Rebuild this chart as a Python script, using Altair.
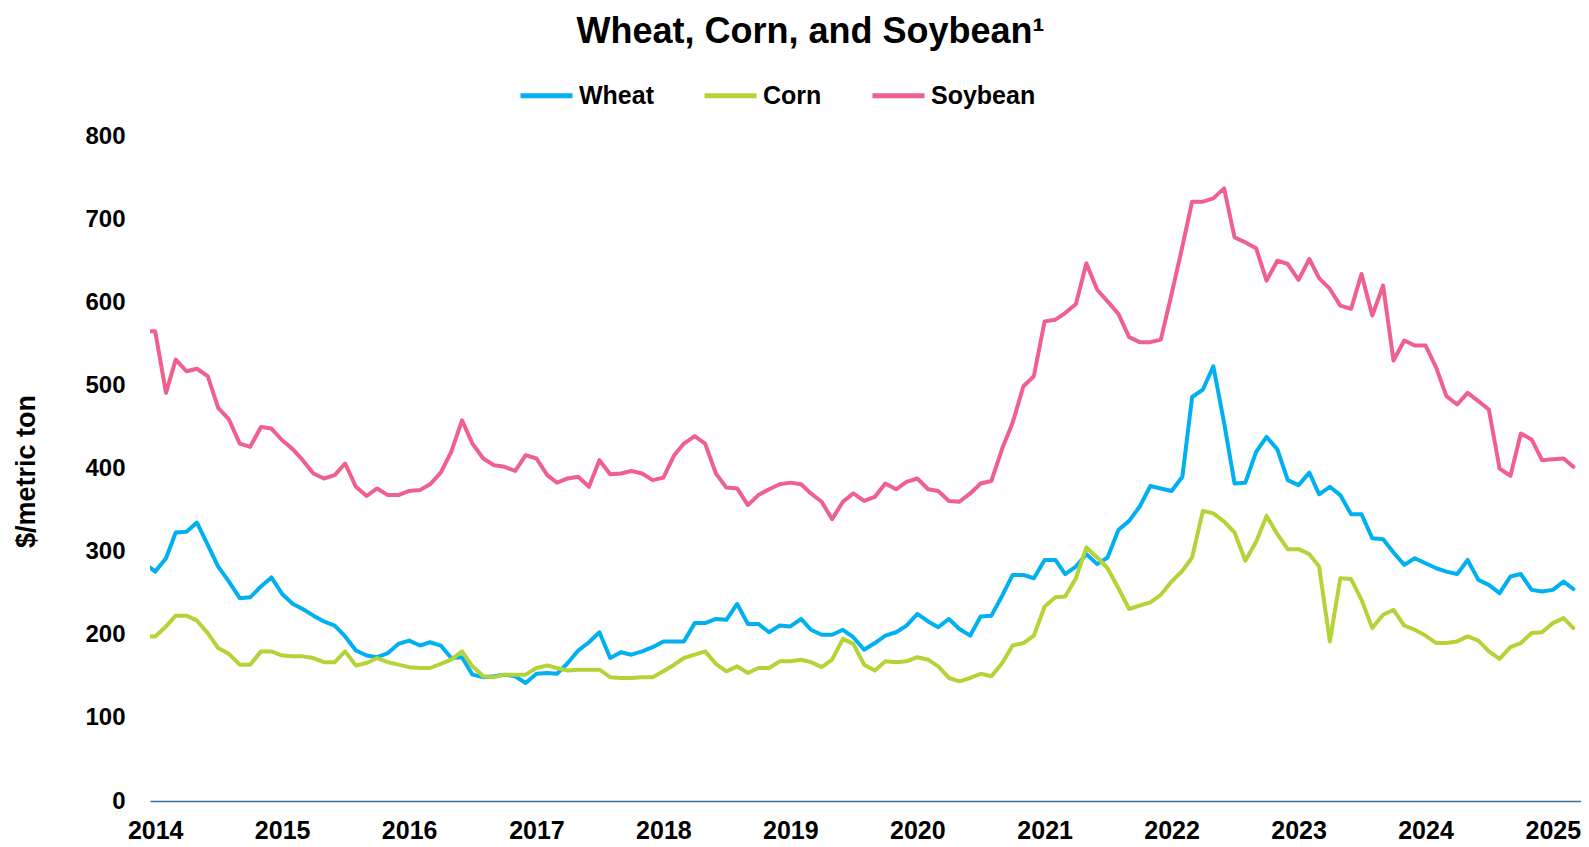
import altair as alt
import pandas as pd

# Monthly prices, Dec 2013 .. Mar 2025 ($/metric ton)
wheat = [286, 276, 292, 323, 324, 335, 308, 282, 264, 244, 245, 258, 269,
         249, 237, 231, 223, 216, 211, 198, 181, 175, 173, 178, 189,
         193, 187, 191, 187, 172, 173, 152, 149, 150, 152, 150, 142,
         153, 154, 153, 166, 181, 191, 203, 172, 179, 176, 180, 185,
         192, 192, 192, 214, 214, 219, 218, 237, 213, 213, 203, 211,
         210, 219, 206, 200, 200, 206, 197, 182, 190, 199, 203, 211,
         225, 216, 209, 219, 207, 199, 222, 223, 247, 272, 272, 268,
         290, 290, 273, 282, 297, 285, 293, 326, 337, 354, 379, 376,
         373, 390, 486, 495, 523, 455, 382, 383, 420, 438, 423, 386,
         380, 395, 369, 378, 368, 345, 345, 316, 315, 299, 284, 292,
         286, 280, 276, 273, 290, 266, 260, 250, 270, 273, 254, 252,
         254, 264, 255]
corn = [198, 198, 210, 223, 223, 217, 202, 184, 177, 164, 164, 180, 180,
        175, 174, 174, 172, 167, 167, 180, 163, 166, 172, 167, 164,
        161, 160, 160, 165, 170, 180, 162, 150, 149, 152, 152, 152,
        160, 163, 160, 157, 158, 158, 158, 149, 148, 148, 149, 149,
        156, 164, 172, 176, 180, 165, 156, 162, 154, 160, 160, 168,
        168, 170, 167, 161, 170, 195, 189, 164, 157, 168, 167, 168,
        173, 170, 162, 148, 144, 148, 153, 150, 166, 187, 190, 199,
        234, 245, 246, 268, 305, 293, 280, 256, 231, 235, 239, 248,
        264, 277, 293, 349, 346, 336, 323, 289, 312, 343, 321, 303,
        303, 297, 282, 192, 268, 267, 242, 208, 224, 230, 211, 206,
        199, 190, 190, 192, 198, 193, 180, 171, 185, 190, 202, 203,
        214, 220, 208]
soybean = [565, 565, 491, 531, 517, 520, 511, 473, 459, 430, 426, 450, 448,
           434, 423, 410, 394, 388, 392, 406, 378, 367, 376, 368, 368,
           373, 374, 381, 395, 420, 458, 430, 412, 404, 402, 397, 416,
           412, 392, 383, 388, 390, 378, 410, 393, 394, 397, 394, 386,
           389, 416, 430, 439, 430, 394, 377, 376, 356, 368, 375, 381,
           383, 381, 370, 360, 339, 360, 370, 361, 366, 382, 375, 384,
           388, 375, 373, 361, 360, 370, 382, 385, 424, 455, 499, 511,
           577, 579, 587, 598, 647, 615, 601, 586, 558, 552, 552, 555,
           610, 667, 721, 721, 725, 737, 678, 672, 665, 626, 650, 646,
           627, 652, 629, 616, 596, 592, 634, 584, 620, 530, 554, 548,
           548, 521, 487, 477, 491, 481, 471, 400, 391, 442, 435, 410,
           411, 412, 402]

series_names = ["Wheat", "Corn", "Soybean"]
series_colors = ["#00b0f0", "#b4d337", "#f0608c"]
y_ticks = [0, 100, 200, 300, 400, 500, 600, 700, 800]

months = pd.date_range("2013-12-01", periods=len(wheat), freq="MS")
frames = []
for name, vals in zip(series_names, [wheat, corn, soybean]):
    frames.append(pd.DataFrame({"date": months, "commodity": name, "price": vals}))
df = pd.concat(frames, ignore_index=True)

FONT = "Liberation Sans, Arial, sans-serif"

chart = (
    alt.Chart(df)
    .mark_line(strokeWidth=4, clip=True, strokeJoin="round", strokeCap="round")
    .encode(
        x=alt.X(
            "date:T",
            scale=alt.Scale(
                domain=[alt.DateTime(year=2013, month=12, date=17),
                        alt.DateTime(year=2025, month=3, date=23)]
            ),
            axis=alt.Axis(
                title=None, format="%Y", tickCount={"interval": "year", "step": 1},
                grid=False, ticks=False, tickSize=0, labelPadding=17,
                domainColor="#3d6f98", domainWidth=1.5, labelAngle=0,
                labelFontSize=25, labelFont=FONT, labelFontWeight="bold",
                labelColor="black", labelFlush=False, labelOverlap=False,
            ),
        ),
        y=alt.Y(
            "price:Q",
            scale=alt.Scale(domain=[0, 800], nice=False),
            axis=alt.Axis(
                title="$/metric ton", values=y_ticks, grid=False, domain=False,
                ticks=False, tickSize=0, labelPadding=25, labelFontSize=24,
                labelFont=FONT, labelFontWeight="bold", labelColor="black",
                titleFontSize=27, titleFont=FONT, titleFontWeight="bold",
                titleColor="black", titleAngle=270, titleX=-124, titleY=335,
                titleAlign="center", titleBaseline="middle",
            ),
        ),
        color=alt.Color(
            "commodity:N",
            scale=alt.Scale(domain=series_names, range=series_colors),
            legend=alt.Legend(
                orient="none", legendX=368, legendY=-69, direction="horizontal",
                title=None, symbolType="stroke", symbolSize=2704,
                symbolStrokeWidth=5, labelFontSize=25, labelFont=FONT,
                labelFontWeight="bold", labelColor="black", columnPadding=40,
                labelOffset=4, padding=0,
            ),
        ),
    )
    .properties(
        width=1431,
        height=665,
        padding={"left": 142, "top": 128, "right": 0, "bottom": 46},
        autosize=alt.AutoSizeParams(type="none"),
        title=alt.Title(
            "Wheat, Corn, and Soybean¹", fontSize=36, font=FONT,
            fontWeight="bold", color="black", anchor="middle", dx=-55, dy=-12,
        ),
    )
    .configure(background="white")
    .configure_view(stroke="transparent", strokeWidth=0)
)

chart.save("out.html", embed_options={"renderer": "svg", "actions": False})
